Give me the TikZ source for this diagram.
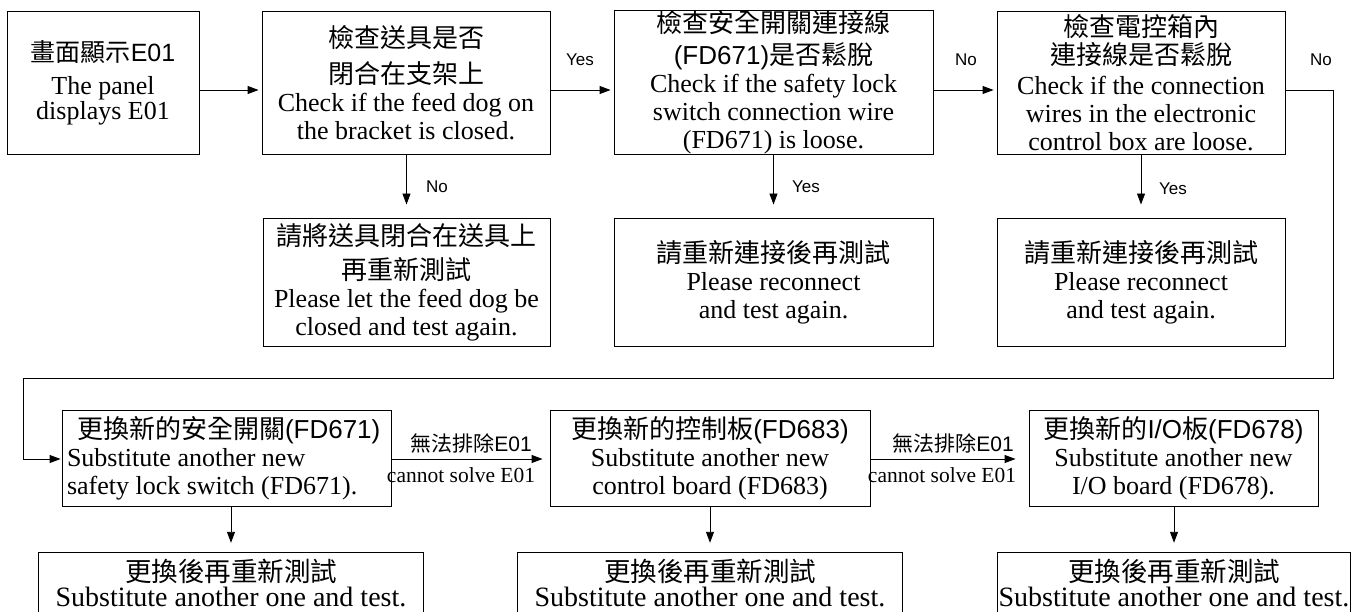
\documentclass[tikz,border=0pt]{standalone}
\usepackage{fontspec}
\setmainfont{Liberation Serif}
\newfontfamily\cjkf{Noto Sans CJK TC}
\newfontfamily\arialf{Liberation Sans}
\usetikzlibrary{arrows.meta}
\newcommand\ZH[1]{{\cjkf\fontsize{26}{28}\selectfont #1}}
\newcommand\LS[1]{{\arialf #1}}
\tikzset{
  box/.style={draw, line width=0.9pt, inner sep=0pt, align=center,
    font=\fontsize{26}{28}\selectfont},
  openbox/.style={inner sep=0pt, align=center, font=\fontsize{28}{25}\selectfont,
    minimum width=384pt, minimum height=59pt},
  lbl/.style={font=\arialf\fontsize{17}{17}\selectfont, inner sep=0pt},
  zlbl/.style={font=\fontsize{21}{21}\selectfont, inner sep=0pt},
  elbl/.style={font=\fontsize{21.5}{21.5}\selectfont, inner sep=0pt},
  ln/.style={line width=0.9pt},
  arr/.style={line width=0.9pt, -{Triangle[length=11pt,width=8pt]}},
}
\begin{document}
\begin{tikzpicture}[x=1pt,y=-1pt]
\useasboundingbox (0,0) rectangle (1356,612);
% top row
\node[box, minimum width=192pt, minimum height=143pt] (b1) at (103,82.5)
  {{\fontsize{25}{28}\selectfont\cjkf 畫面顯示\arialf E01}\\[5pt]The panel\\[-3pt]displays E01};
\node[box, minimum width=288pt, minimum height=143pt] (b2) at (406,82.5)
  {\ZH{檢查送具是否}\\[8pt]\ZH{閉合在支架上}\\Check if the feed dog on\\the bracket is closed.};
\node[box, minimum width=319pt, minimum height=143pt] (b3) at (773.5,82.5)
  {\ZH{檢查安全開關連接線}\\[4pt]\ZH{\LS{(FD671)}是否鬆脫}\\Check if the safety lock\\switch connection wire\\(FD671) is loose.};
\node[box, minimum width=288pt, minimum height=143pt] (b4) at (1141,82.5)
  {\ZH{檢查電控箱內}\\\ZH{連接線是否鬆脫}\\[2pt]Check if the connection\\wires in the electronic\\control box are loose.};
% second row
\node[box, minimum width=287pt, minimum height=128pt] (r2) at (406.5,282)
  {\ZH{請將送具閉合在送具上}\\[6pt]\ZH{再重新測試}\\Please let the feed dog be\\closed and test again.};
\node[box, minimum width=319pt, minimum height=128pt] (r3) at (773.5,282)
  {\ZH{請重新連接後再測試}\\Please reconnect\\and test again.};
\node[box, minimum width=288pt, minimum height=128pt] (r4) at (1141,282)
  {\ZH{請重新連接後再測試}\\Please reconnect\\and test again.};
% third row
\node[box, align=flush left, text width=319pt, inner xsep=5pt, minimum height=96pt] (s1) at (226.5,458)
  {\hspace*{10pt}\ZH{更換新的安全開關\LS{(FD671)}}\\Substitute another new\\safety lock switch (FD671).};
\node[box, minimum width=320pt, minimum height=96pt] (s2) at (710,458)
  {\ZH{更換新的控制板\LS{(FD683)}}\\Substitute another new\\control board (FD683)};
\node[box, minimum width=289pt, minimum height=96pt] (s3) at (1173.5,458)
  {\ZH{更換新的\LS{I/O}板\LS{(FD678)}}\\Substitute another new\\I/O board (FD678).};
% bottom row (open at the bottom edge)
\node[openbox] (t1) at (231,582.5)
  {{\cjkf\fontsize{26.5}{25}\selectfont 更換後再重新測試}\\Substitute another one and test.};
\node[openbox] (t2) at (710,582.5)
  {{\cjkf\fontsize{26.5}{25}\selectfont 更換後再重新測試}\\Substitute another one and test.};
\node[openbox, minimum width=352pt] (t3) at (1174,582.5)
  {{\cjkf\fontsize{26.5}{25}\selectfont 更換後再重新測試}\\Substitute another one and test.};
\foreach \t in {t1,t2,t3}
  \draw[ln] (\t.south west) -- (\t.north west) -- (\t.north east) -- (\t.south east);
% connectors top row
\coordinate (ya) at (0,90);
\draw[arr, shorten >=3pt] (b1.east |- ya) -- (b2.west |- ya);
\draw[arr, shorten >=3pt] (b2.east |- ya) -- (b3.west |- ya);
\draw[arr, shorten >=3pt] (b3.east |- ya) -- (b4.west |- ya);
\node[lbl] (yes1) at (580,60) {Yes};
\node[lbl] (no1) at (966,60) {No};
\node[lbl] (no2) at (1321,60) {No};
% down arrows to second row
\draw[arr, shorten >=13pt] (b2.south -| r2.north) -- (r2.north);
\draw[arr, shorten >=13pt] (b3.south) -- (r3.north);
\draw[arr, shorten >=13pt] (b4.south) -- (r4.north);
\node[lbl] (no3) at (437,187) {No};
\node[lbl] (yes2) at (806,187) {Yes};
\node[lbl] (yes3) at (1173,189) {Yes};
% wrap-around connector
\coordinate (c1) at (1333,90);
\coordinate (c2) at (1333,378);
\coordinate (c3) at (23,378);
\coordinate (c4) at (23,459);
\draw[arr, shorten >=1pt] (b4.east |- ya) -- (c1) -- (c2) -- (c3) -- (c4) -- (s1.west |- c4);
% third row connectors
\draw[arr, shorten >=7pt] (s1.east |- c4) -- (s2.west |- c4);
\draw[arr, shorten >=13pt] (s2.east |- c4) -- (s3.west |- c4);
\node[zlbl] (f1) at (471,443) {\cjkf 無法排除\arialf E01};
\node[elbl] (g1) at (461,475) {cannot solve E01};
\node[zlbl] (f2) at (953,443) {\cjkf 無法排除\arialf E01};
\node[elbl] (g2) at (942,475) {cannot solve E01};
% down arrows to bottom row
\draw[arr, shorten >=10pt] (t1.north |- s1.south) -- (t1.north);
\draw[arr, shorten >=10pt] (t2.north |- s2.south) -- (t2.north);
\draw[arr, shorten >=10pt] (t3.north |- s3.south) -- (t3.north);
\end{tikzpicture}
\end{document}
